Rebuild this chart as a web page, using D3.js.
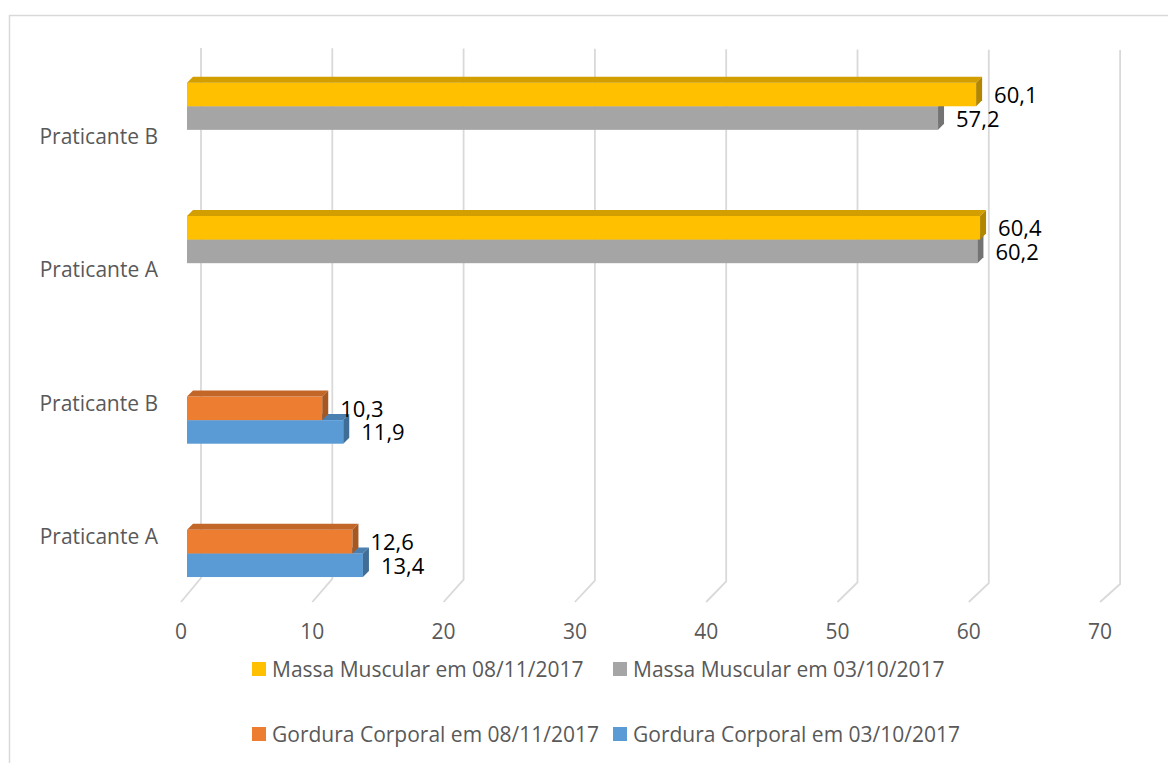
<!DOCTYPE html>
<html>
<head>
<meta charset="utf-8">
<script src="https://cdn.jsdelivr.net/npm/d3@7"></script>
<style>
  html, body { margin: 0; padding: 0; background: #fff; }
  svg { display: block; font-family: "Open Sans", sans-serif; }
</style>
</head>
<body>
<div id="chart"></div>
<script>
// Row labels, bottom to top
const rows = ["Praticante A", "Praticante B", "Praticante A", "Praticante B"];

// Series, drawn bottom to top inside each row
const seriesNames = [
  "Gordura Corporal em 03/10/2017",
  "Gordura Corporal em 08/11/2017",
  "Massa Muscular em 03/10/2017",
  "Massa Muscular em 08/11/2017"
];
const gorduraOct = [13.4, 11.9, null, null];
const gorduraNov = [12.6, 10.3, null, null];
const massaOct   = [null, null, 60.2, 57.2];
const massaNov   = [null, null, 60.4, 60.1];
const seriesValues = [gorduraOct, gorduraNov, massaOct, massaNov];
const seriesColors = ["#5b9bd5", "#ed7d31", "#a5a5a5", "#ffc000"];

// Legend order (as listed under the chart)
const legendOrder = [3, 2, 1, 0];

const xTicks = [0, 10, 20, 30, 40, 50, 60, 70];

const W = 1168, H = 763;
const svg = d3.select("#chart").append("svg")
  .attr("width", W).attr("height", H);

svg.append("rect").attr("width", W).attr("height", H).attr("fill", "#fff");

// chart frame (runs past the right and bottom edges)
svg.append("rect")
  .attr("x", 9.5).attr("y", 15.5)
  .attr("width", 1200).attr("height", 800)
  .attr("fill", "none").attr("stroke", "#d9d9d9").attr("stroke-width", 1.5);

// value scale for the bar front faces
const x = d3.scaleLinear().domain([0, 70]).range([187, 1106.1]);

// 3D projection offsets relative to the bar front plane
const backDx = 14;      // back wall
const frontDx = -6;     // front edge of the floor
const frontFloorY = 602;
const backFloorY = d3.scaleLinear().domain([0, 70]).range([578, 584]);
const backTopY = d3.scaleLinear().domain([0, 70]).range([48, 50]);
const depth = { dx: 6, dy: -6 };

// rows and series slots
const rowIdx = d3.range(rows.length);
const y = d3.scaleBand().domain(rowIdx).range([596.5, 63.2])
  .paddingInner(0.292).paddingOuter(0.146);
const ySub = d3.scaleBand().domain(d3.range(seriesNames.length))
  .range([y.bandwidth(), 0]);

// gridlines: back wall verticals + floor diagonals
const grid = svg.append("g").attr("fill", "none")
  .attr("stroke", "#d9d9d9").attr("stroke-width", 1.8);
grid.selectAll("path").data(xTicks).join("path")
  .attr("d", v => {
    const xb = x(v) + backDx, xf = x(v) + frontDx;
    return `M${xb},${backTopY(v)}L${xb},${backFloorY(v)}L${xf},${frontFloorY}`;
  });

// tick labels
svg.append("g").selectAll("text").data(xTicks).join("text")
  .attr("x", v => x(v) + frontDx)
  .attr("y", 639)
  .attr("text-anchor", "middle")
  .attr("font-size", 21)
  .attr("fill", "#595959")
  .text(v => v);

// row labels
svg.append("g").selectAll("text").data(rowIdx).join("text")
  .attr("x", 158)
  .attr("y", i => y(i) + y.bandwidth() / 2 + 14)
  .attr("text-anchor", "end")
  .attr("font-size", 21)
  .attr("fill", "#595959")
  .text(i => rows[i]);

// bars
const bars = [];
rowIdx.forEach(r => {
  seriesValues.forEach((vals, s) => {
    if (vals[r] != null) bars.push({ r, s, v: vals[r] });
  });
});

const barG = svg.append("g");
bars.forEach(b => {
  const x0 = x(0), x1 = x(b.v);
  const top = y(b.r) + ySub(b.s);
  const h = ySub.bandwidth();
  const base = d3.color(seriesColors[b.s]);
  const g = barG.append("g");
  // front face
  g.append("rect")
    .attr("x", x0).attr("y", top)
    .attr("width", x1 - x0).attr("height", h)
    .attr("fill", base.formatHex());
  // top face
  g.append("path")
    .attr("d", `M${x0},${top}L${x0 + depth.dx},${top + depth.dy}L${x1 + depth.dx},${top + depth.dy}L${x1},${top}Z`)
    .attr("fill", base.darker(0.55).formatHex());
  // side face
  g.append("path")
    .attr("d", `M${x1},${top}L${x1 + depth.dx},${top + depth.dy}L${x1 + depth.dx},${top + h + depth.dy}L${x1},${top + h}Z`)
    .attr("fill", base.darker(1.0).formatHex());
});

// value labels
svg.append("g").selectAll("text").data(bars).join("text")
  .attr("x", b => x(b.v) + 18)
  .attr("y", b => y(b.r) + ySub(b.s) + ySub.bandwidth() / 2 + 8.5)
  .attr("font-size", 22)
  .attr("fill", "#000")
  .text(b => d3.format(".1f")(b.v).replace(".", ","));

// legend
const legend = svg.append("g").selectAll("g").data(legendOrder).join("g")
  .attr("transform", (s, i) => `translate(${252 + (i % 2) * 361},${676.5 + Math.floor(i / 2) * 65})`);
legend.append("rect")
  .attr("x", 0).attr("y", -14.5)
  .attr("width", 14).attr("height", 14)
  .attr("fill", s => seriesColors[s]);
legend.append("text")
  .attr("x", 20).attr("y", 0)
  .attr("font-size", 21)
  .attr("fill", "#595959")
  .text(s => seriesNames[s]);
</script>
</body>
</html>
